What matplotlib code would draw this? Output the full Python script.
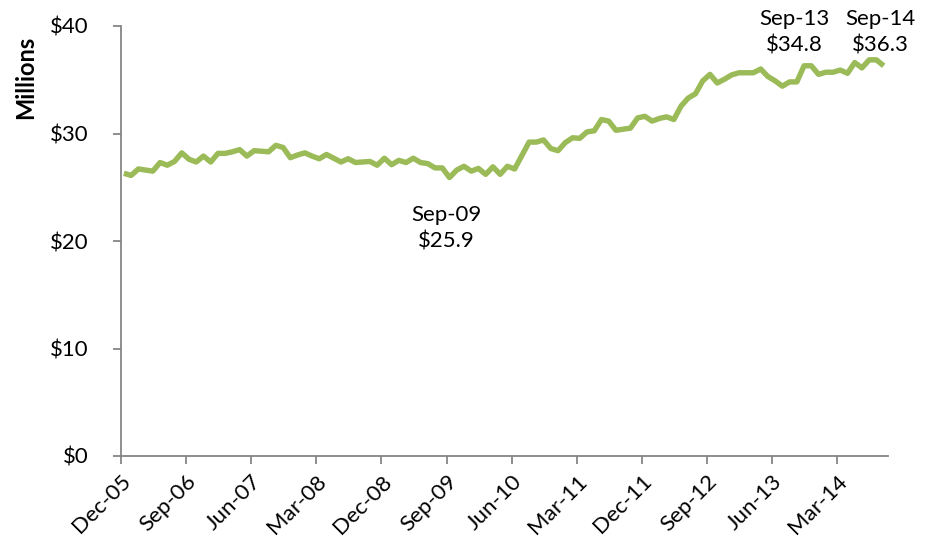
import numpy as np
import matplotlib
matplotlib.use("Agg")
import matplotlib.pyplot as plt
from matplotlib.ticker import FuncFormatter

plt.rcParams['font.family'] = ['Lato', 'DejaVu Sans']

# monthly values, Dec-05 .. Sep-14 ($ millions)
values = [
    26.3, 26.1, 26.7, 26.6, 26.5, 27.3, 27.05, 27.4, 28.2, 27.6,
    27.35, 27.9, 27.35, 28.15, 28.15, 28.3, 28.5, 27.9, 28.4, 28.35,
    28.3, 28.9, 28.7, 27.75, 28.0, 28.2, 27.9, 27.65, 28.05, 27.7,
    27.35, 27.65, 27.3, 27.35, 27.4, 27.05, 27.7, 27.1, 27.5, 27.3,
    27.7, 27.3, 27.2, 26.8, 26.8, 25.9, 26.6, 26.95, 26.5, 26.75,
    26.2, 26.9, 26.2, 26.95, 26.7, 27.95, 29.2, 29.2, 29.4, 28.6,
    28.4, 29.15, 29.6, 29.55, 30.15, 30.25, 31.3, 31.15, 30.3, 30.4,
    30.5, 31.45, 31.6, 31.15, 31.4, 31.55, 31.3, 32.55, 33.3, 33.7,
    34.9, 35.5, 34.7, 35.05, 35.45, 35.65, 35.65, 35.65, 36.0, 35.3,
    34.9, 34.4, 34.8, 34.8, 36.3, 36.3, 35.5, 35.7, 35.7, 35.9,
    35.6, 36.6, 36.1, 36.85, 36.85, 36.3,
]
tick_labels = ['Dec-05', 'Sep-06', 'Jun-07', 'Mar-08', 'Dec-08', 'Sep-09',
               'Jun-10', 'Mar-11', 'Dec-11', 'Sep-12', 'Jun-13', 'Mar-14']
callouts = [(45, 'Sep-09', '$25.9'), (93, 'Sep-13', '$34.8'), (105, 'Sep-14', '$36.3')]

x = np.arange(len(values)) + 0.4

fig = plt.figure(figsize=(9.47, 5.5), dpi=100)
ax = fig.add_axes([121 / 947, 94 / 550, 767 / 947, 430 / 550])

ax.plot(x, values, color='#9BBB59', lw=3.9, solid_joinstyle='round', solid_capstyle='butt')

ax.set_xlim(0, 106)
ax.set_ylim(0, 40)
ax.set_xticks(np.arange(0, 106, 9))
ax.set_xticklabels(tick_labels, rotation=45, ha='right', rotation_mode='anchor')
ax.set_yticks([0, 10, 20, 30, 40])
ax.yaxis.set_major_formatter(FuncFormatter(lambda v, p: '${:.0f}'.format(v)))

for side in ['top', 'right']:
    ax.spines[side].set_visible(False)
for side in ['left', 'bottom']:
    ax.spines[side].set_color('#868686')
    ax.spines[side].set_linewidth(1.3)
ax.tick_params(axis='both', colors='#868686', length=6, width=1.3, labelsize=16, labelcolor='black')
ax.tick_params(axis='y', pad=17)
ax.tick_params(axis='x', pad=5)

for i, lab, val in callouts:
    if i == 45:
        ax.text(i, 21.2, lab + '\n' + val, ha='center', va='center', fontsize=16, linespacing=1.4)
    else:
        ax.text(i, 39.4, lab + '\n' + val, ha='center', va='center', fontsize=16, linespacing=1.4,
                clip_on=False)

fig.text(26 / 947, 1 - 77 / 550, 'Millions', rotation=90, ha='center', va='center',
         fontsize=17, fontweight='bold')

fig.savefig('out.png', dpi=100)
